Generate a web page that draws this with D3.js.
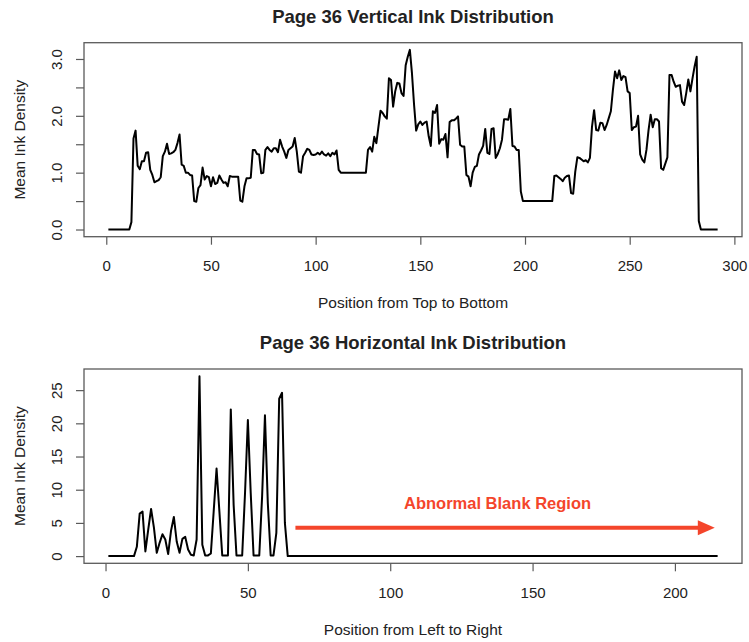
<!DOCTYPE html>
<html>
<head>
<meta charset="utf-8">
<script src="https://cdn.jsdelivr.net/npm/d3@7"></script>
<style>
  body { margin: 0; background: #fff; }
  text { font-family: "Liberation Sans", Arial, Helvetica, sans-serif; fill: #222; }
</style>
</head>
<body>
<script>
// mean ink density per row (top to bottom), positions 1..292
const verticalInk = [
  0, 0, 0, 0, 0, 0, 0, 0, 0, 0,
  0, 0.13, 1.6, 1.74, 1.12, 1.06, 1.2, 1.2, 1.35, 1.36,
  1.05, 0.96, 0.83, 0.85, 0.87, 0.92, 1.29, 1.37, 1.51, 1.33,
  1.34, 1.36, 1.4, 1.52, 1.67, 1.14, 1.12, 1.0, 1.0, 0.96,
  0.95, 0.5, 0.49, 0.73, 0.78, 1.09, 0.88, 0.94, 0.92, 0.76,
  0.92, 0.8, 0.82, 0.95, 0.88, 0.82, 0.83, 0.76, 0.94, 0.93,
  0.93, 0.93, 0.93, 0.51, 0.49, 0.76, 0.9, 0.9, 0.91, 1.4,
  1.4, 1.33, 1.32, 0.99, 1.0, 1.4, 1.45, 1.4, 1.37, 1.43,
  1.43, 1.36, 1.58, 1.46, 1.37, 1.26, 1.4, 1.43, 1.46, 1.61,
  1.37, 1.02, 1.0, 1.29, 1.35, 1.42, 1.4, 1.32, 1.31, 1.32,
  1.35, 1.32, 1.37, 1.32, 1.3, 1.34, 1.29, 1.35, 1.32, 1.39,
  1.05, 1.0, 1.0, 1.0, 1.0, 1.0, 1.0, 1.0, 1.0, 1.0,
  1.0, 1.0, 1.0, 1.0, 1.4, 1.45, 1.37, 1.63, 1.52, 1.81,
  2.09, 2.05, 1.99, 1.95, 2.66, 2.63, 2.16, 2.43, 2.58, 2.57,
  2.4, 2.35, 2.89, 3.04, 3.16, 2.75, 2.2, 1.74, 1.85, 1.9,
  1.84, 1.88, 1.9, 1.64, 1.47, 2.08, 2.05, 2.19, 1.51, 1.59,
  1.58, 1.68, 1.27, 1.89, 1.92, 1.92, 1.95, 1.99, 1.49, 1.46,
  1.46, 0.96, 0.93, 0.76, 1.0, 1.1, 1.12, 1.32, 1.39, 1.47,
  1.77, 1.35, 1.33, 1.77, 1.78, 1.26, 1.33, 1.43, 1.58, 1.94,
  1.94, 1.93, 2.12, 1.47, 1.46, 1.4, 1.4, 0.67, 0.5, 0.5,
  0.5, 0.5, 0.5, 0.5, 0.5, 0.5, 0.5, 0.5, 0.5, 0.5,
  0.5, 0.5, 0.5, 0.94, 0.95, 0.92, 0.89, 0.85, 0.91, 0.94,
  0.95, 0.64, 0.63, 1.02, 1.27, 1.26, 1.23, 1.2, 1.22, 1.18,
  1.26, 1.81, 2.1, 1.75, 1.74, 1.88, 1.87, 1.75, 1.84, 1.96,
  2.08, 2.46, 2.78, 2.66, 2.8, 2.63, 2.7, 2.68, 2.43, 2.4,
  1.75, 1.8, 1.81, 2.0, 1.32, 1.23, 1.18, 1.4, 1.75, 2.02,
  1.8, 1.94, 1.94, 1.9, 1.08, 1.05, 1.16, 1.27, 2.72, 2.72,
  2.6, 2.51, 2.53, 2.54, 2.25, 2.19, 2.4, 2.64, 2.43, 2.66,
  2.87, 3.04, 0.15, 0, 0, 0, 0, 0, 0, 0,
  0, 0
];

// mean ink density per column (left to right), positions 1..215
const horizontalInk = [
  0, 0, 0, 0, 0, 0, 0, 0, 0, 0,
  1.4, 6.4, 6.7, 0.7, 4.0, 7.1, 4.3, 0.5, 2.0, 3.3,
  2.5, 0.3, 3.8, 5.9, 2.2, 0.5, 2.6, 2.9, 1.0, 0.2,
  0.1, 2.5, 27.1, 1.7, 0.1, 0.1, 0.4, 6.8, 13.2, 6.7,
  0.1, 0.1, 0.1, 22.1, 7.7, 0.1, 0.1, 0.1, 9.5, 20.5,
  9.5, 0.1, 0.1, 0.1, 9.0, 21.2, 8.0, 0.1, 0.1, 3.5,
  23.7, 24.6, 5.0, 0, 0, 0, 0, 0, 0, 0,
  0, 0, 0, 0, 0, 0, 0, 0, 0, 0,
  0, 0, 0, 0, 0, 0, 0, 0, 0, 0,
  0, 0, 0, 0, 0, 0, 0, 0, 0, 0,
  0, 0, 0, 0, 0, 0, 0, 0, 0, 0,
  0, 0, 0, 0, 0, 0, 0, 0, 0, 0,
  0, 0, 0, 0, 0, 0, 0, 0, 0, 0,
  0, 0, 0, 0, 0, 0, 0, 0, 0, 0,
  0, 0, 0, 0, 0, 0, 0, 0, 0, 0,
  0, 0, 0, 0, 0, 0, 0, 0, 0, 0,
  0, 0, 0, 0, 0, 0, 0, 0, 0, 0,
  0, 0, 0, 0, 0, 0, 0, 0, 0, 0,
  0, 0, 0, 0, 0, 0, 0, 0, 0, 0,
  0, 0, 0, 0, 0, 0, 0, 0, 0, 0,
  0, 0, 0, 0, 0, 0, 0, 0, 0, 0,
  0, 0, 0, 0, 0
];

const verticalXTicks = [0, 50, 100, 150, 200, 250, 300];
const verticalYTicks = [0, 0.5, 1, 1.5, 2, 2.5, 3];
const horizontalXTicks = [0, 50, 100, 150, 200];
const horizontalYTicks = [0, 5, 10, 15, 20, 25];

const titles = ["Page 36 Vertical Ink Distribution", "Page 36 Horizontal Ink Distribution"];
const xLabels = ["Position from Top to Bottom", "Position from Left to Right"];
const yLabel = "Mean Ink Density";
const noteText = "Abnormal Blank Region";

const width = 749, height = 642;
const left = 84, right = 742;
const boxColor = "#5a5a5a";

const svg = d3.select("body").append("svg")
  .attr("width", width)
  .attr("height", height);

// R style axis range: data extent padded by 4% on each side
const pad = ext => {
  const d = (ext[1] - ext[0]) * 0.04;
  return [ext[0] - d, ext[1] + d];
};

function drawPanel(values, xTicks, yTicks, yFmt, title, xLabel, top, bottom) {
  const pts = values.map((v, i) => [i + 1, v]);

  const x = d3.scaleLinear().domain(pad([1, values.length])).range([left, right]);
  const y = d3.scaleLinear().domain(pad(d3.extent(values))).range([bottom, top]);

  const g = svg.append("g");

  // x axis
  const xa = g.append("g")
    .attr("transform", `translate(0,${bottom})`)
    .call(d3.axisBottom(x).tickValues(xTicks).tickSize(8).tickSizeOuter(0).tickPadding(16));
  xa.select(".domain").remove();
  xa.selectAll("line").attr("stroke", boxColor).attr("stroke-width", 1.2);
  xa.selectAll("text").style("font-size", "15px").attr("fill", "#222");

  // y axis, labels turned parallel to the axis
  const ya = g.append("g")
    .attr("transform", `translate(${left},0)`)
    .call(d3.axisLeft(y).tickValues(yTicks).tickFormat(yFmt).tickSize(8).tickSizeOuter(0));
  ya.select(".domain").remove();
  ya.selectAll("line").attr("stroke", boxColor).attr("stroke-width", 1.2);
  ya.selectAll("text")
    .attr("x", null).attr("dy", null)
    .attr("transform", "translate(-22.5,0) rotate(-90)")
    .attr("text-anchor", "middle")
    .style("font-size", "15px")
    .attr("fill", "#222");

  // plot box
  g.append("rect")
    .attr("x", left).attr("y", top)
    .attr("width", right - left).attr("height", bottom - top)
    .attr("fill", "none")
    .attr("stroke", boxColor)
    .attr("stroke-width", 1.3);

  g.append("path")
    .datum(pts)
    .attr("fill", "none")
    .attr("stroke", "#000")
    .attr("stroke-width", 2)
    .attr("stroke-linejoin", "round")
    .attr("d", d3.line().x(d => x(d[0])).y(d => y(d[1])));

  const mid = (left + right) / 2;
  g.append("text")
    .attr("x", mid).attr("y", top - 20)
    .attr("text-anchor", "middle")
    .style("font-size", "18.5px")
    .style("font-weight", "bold")
    .text(title);

  g.append("text")
    .attr("x", mid).attr("y", bottom + 71.5)
    .attr("text-anchor", "middle")
    .style("font-size", "15.5px")
    .text(xLabel);

  g.append("text")
    .attr("transform", `translate(25,${(top + bottom) / 2}) rotate(-90)`)
    .attr("text-anchor", "middle")
    .style("font-size", "15.5px")
    .text(yLabel);

  return { x, y, g };
}

drawPanel(verticalInk, verticalXTicks, verticalYTicks,
  d => Number.isInteger(d) ? d3.format(".1f")(d) : "",
  titles[0], xLabels[0], 42.7, 236.7);

const bottomPanel = drawPanel(horizontalInk, horizontalXTicks, horizontalYTicks,
  d3.format("d"), titles[1], xLabels[1], 369, 563.3);

// annotation arrow over the empty stretch
const { x: hx, y: hy, g: hg } = bottomPanel;
const red = "#f4452b";
const arrowY = hy(4.26), x0 = hx(66.7), x1 = hx(214);
hg.append("line")
  .attr("x1", x0).attr("x2", x1 - 14)
  .attr("y1", arrowY).attr("y2", arrowY)
  .attr("stroke", red)
  .attr("stroke-width", 4);
hg.append("path")
  .attr("d", `M${x1},${arrowY} L${x1 - 17},${arrowY - 7.5} L${x1 - 17},${arrowY + 7.5} Z`)
  .attr("fill", red);
hg.append("text")
  .attr("x", hx(137.7)).attr("y", hy(7.1))
  .attr("text-anchor", "middle")
  .style("font-size", "16.5px")
  .style("font-weight", "bold")
  .style("fill", red)
  .text(noteText);
</script>
</body>
</html>
